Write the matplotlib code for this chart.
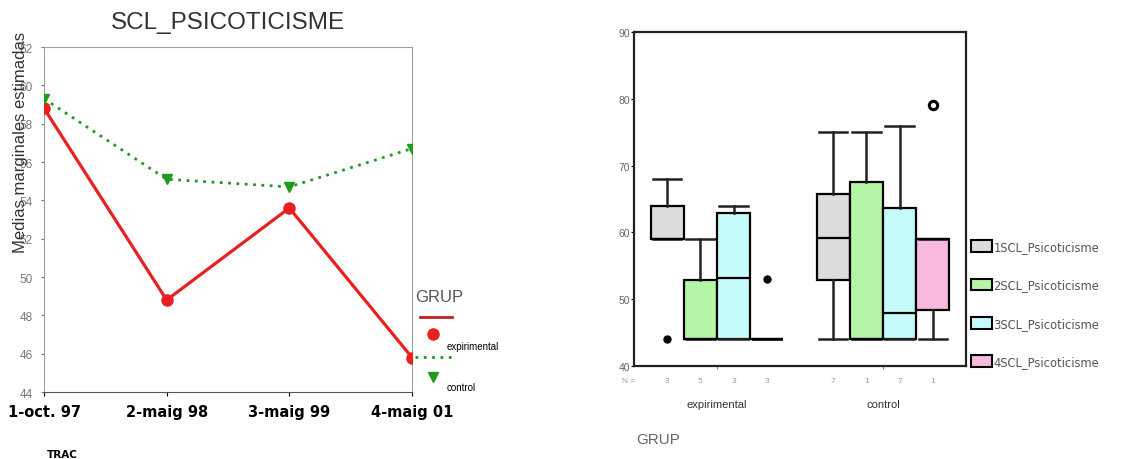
import matplotlib
matplotlib.use("Agg")
import matplotlib.pyplot as plt
from matplotlib.lines import Line2D
from matplotlib.patches import Patch
import matplotlib.transforms as mtransforms

plt.rcParams['font.family'] = ['Liberation Sans', 'DejaVu Sans']

# dades grafic de linies
trams = ['1-oct. 97', '2-maig 98', '3-maig 99', '4-maig 01']
experimental = [58.8, 48.8, 53.6, 45.8]
control = [59.3, 55.1, 54.7, 56.7]

# dades boxplot (per grup, 4 mesures)
grups = ['expirimental', 'control']
mesures = ['1SCL_Psicoticisme', '2SCL_Psicoticisme', '3SCL_Psicoticisme', '4SCL_Psicoticisme']
colors_box = ['#dcdcdc', '#b6f5a8', '#c6fbfb', '#f8b9dd']
q1 = [[59, 44, 44, 44], [52.8, 44, 44, 48.4]]
med = [[59, 44, 53.2, 44], [59.2, 44, 48, 59]]
q3 = [[64, 52.8, 62.9, 44], [65.7, 67.5, 63.6, 59]]
whislo = [[59, 44, 44, 44], [44, 44, 44, 44]]
whishi = [[68, 59, 64, 44], [75, 75, 76, 59]]
extrems = [[[44], [], [], [53]], [[], [], [], []]]
atipics = [[[], [], [], []], [[], [], [], [79.1]]]
n_casos = [['3', '5', '3', '3'], ['7', '1', '7', '1']]

fig = plt.figure(figsize=(11.22, 4.6), dpi=100)

def fx(px):
    return px/1122
def fy(py):
    return 1-py/460

# ---------- grafic esquerre ----------
ax = fig.add_axes([44/1122, 1-393/460, 368/1122, 345/460])
x = range(len(trams))
ax.plot(x, experimental, color='#e82020', lw=2.3, marker='o', ms=8, zorder=3)
ax.plot(x, control, color='#1f9a1f', lw=2, ls=(0, (1, 2)), marker='v', ms=7, zorder=3)
ax.set_xlim(0, 3)
ax.set_ylim(44, 62)
ax.set_xticks(list(x))
ax.set_xticklabels(trams, fontweight='bold', fontsize=10.5, family='DejaVu Sans')
ax.set_yticks(range(44, 63, 2))
ax.tick_params(axis='y', labelsize=8.5, labelcolor='#777777', length=2, pad=6, color='#777777')
ax.tick_params(axis='x', length=3, pad=6)
for s in ax.spines.values():
    s.set_color('#a0a0a0')
    s.set_linewidth(0.8)
ax.spines['bottom'].set_color('#555555')
ax.set_ylabel('Medias marginales estimadas', fontsize=12, color='#333333')
ax.yaxis.set_label_coords(-0.043, 0.725)
ax.set_title('SCL_PSICOTICISME', fontsize=17.5, color='#333333', pad=14)
fig.text(fx(47), fy(455), 'TRAC', fontsize=7.5, fontweight='bold', va='center', family='DejaVu Sans')

# llegenda estil SPSS
fig.text(fx(415), fy(297), 'GRUP', fontsize=12, color='#555555', va='center')
fig.add_artist(Line2D([fx(420), fx(452)], [fy(318), fy(318)], color='#c02020', lw=2))
fig.add_artist(Line2D([fx(433)], [fy(335)], color='#e82020', marker='o', ms=8, ls=''))
fig.text(fx(447), fy(347), 'expirimental', fontsize=7, va='center')
fig.add_artist(Line2D([fx(415), fx(456)], [fy(358), fy(358)], color='#1f9a1f', lw=2, ls=(0, (1, 2))))
fig.add_artist(Line2D([fx(433)], [fy(378)], color='#1f9a1f', marker='v', ms=7, ls=''))
fig.text(fx(447), fy(388), 'control', fontsize=7, va='center')

# ---------- boxplot dret ----------
bx = fig.add_axes([634/1122, 1-367/460, 332/1122, 334/460])
amplada = 0.2
for g in range(len(grups)):
    for i in range(len(mesures)):
        pos = g + (i - 1.5) * amplada
        st = [dict(med=med[g][i], q1=q1[g][i], q3=q3[g][i],
                   whislo=whislo[g][i], whishi=whishi[g][i], fliers=[])]
        bx.bxp(st, positions=[pos], widths=amplada, capwidths=amplada*0.85,
               patch_artist=True, showfliers=False, manage_ticks=False,
               boxprops=dict(facecolor=colors_box[i], edgecolor='black', linewidth=1.6),
               medianprops=dict(color='black', linewidth=1.6),
               whiskerprops=dict(color='#222222', linewidth=1.8),
               capprops=dict(color='#222222', linewidth=1.8))
        if extrems[g][i]:
            bx.plot([pos]*len(extrems[g][i]), extrems[g][i], 'o', color='black', ms=5, zorder=4)
        if atipics[g][i]:
            bx.plot([pos]*len(atipics[g][i]), atipics[g][i], 'o', mfc='none', mec='black',
                    mew=2.2, ms=6, zorder=4)
        trans = mtransforms.blended_transform_factory(bx.transData, bx.transAxes)
        bx.text(pos, -0.042, n_casos[g][i], transform=trans, ha='center', va='center',
                fontsize=6, color='#999999')
trans = mtransforms.blended_transform_factory(bx.transAxes, bx.transAxes)
bx.text(-0.015, -0.042, 'N =', transform=trans, ha='center', va='center', fontsize=6, color='#999999')

bx.set_xlim(-0.5, 1.5)
bx.set_ylim(40, 90)
bx.set_yticks(range(40, 91, 10))
bx.tick_params(axis='y', labelsize=7.5, labelcolor='#666666', length=2, pad=1)
bx.set_xticks(range(len(grups)))
bx.set_xticklabels(grups, fontsize=8, color='#333333')
bx.tick_params(axis='x', length=2, pad=22, color='#888888')
for s in bx.spines.values():
    s.set_linewidth(1.6)
    s.set_color('#222222')
fig.text(fx(636), fy(440), 'GRUP', fontsize=11, color='#666666', va='center')

handles = [Patch(facecolor=c, edgecolor='black', linewidth=1.5) for c in colors_box]
fig.legend(handles, mesures, loc='upper left', bbox_to_anchor=(fx(971), fy(241)),
           frameon=False, prop=dict(family='DejaVu Sans', size=8.3), labelcolor='#555555',
           labelspacing=2.2, handlelength=1.8, handleheight=1.2, handletextpad=0.15,
           borderaxespad=0, borderpad=0)

fig.savefig('out.png', dpi=100)
